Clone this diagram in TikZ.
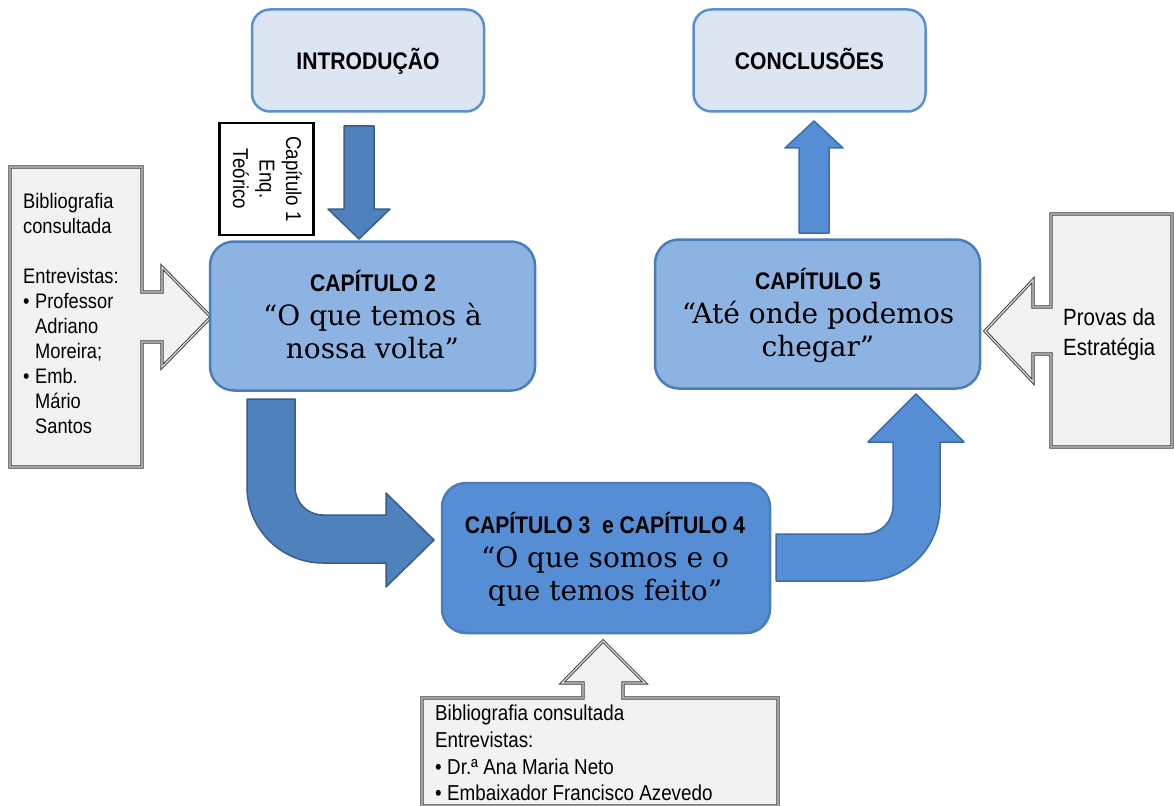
\documentclass[tikz,border=0pt]{standalone}
\usepackage{fontspec}
\setmainfont{Liberation Sans}
\newfontfamily\hfont[FakeStretch=0.88]{Liberation Sans}
\newfontfamily\bodyfont[FakeStretch=0.87]{Liberation Sans}
\newfontfamily\qfont{DejaVu Serif}
\definecolor{lightfill}{HTML}{DCE6F2}
\definecolor{lightline}{HTML}{5B8FD0}
\definecolor{midfill}{HTML}{8DB3E2}
\definecolor{midline}{HTML}{4A7EBB}
\definecolor{darkfill}{HTML}{558ED5}
\definecolor{arrowA}{HTML}{4F81BD}
\definecolor{arrowAline}{HTML}{385D8A}
\definecolor{arrowB}{HTML}{558ED5}
\definecolor{arrowBline}{HTML}{3C6DA8}
\definecolor{callfill}{HTML}{F2F2F2}
\definecolor{callline}{HTML}{3A3A3A}
\begin{document}
\begin{tikzpicture}[x=1pt,y=-1pt,
  lightbox/.style={draw=lightline, fill=lightfill, line width=2.5pt, rounded corners=18pt,
    minimum width=232pt, minimum height=102pt, inner sep=0pt},
  chapbox/.style={draw=midline, line width=2.5pt, rounded corners=24pt,
    minimum width=325pt, minimum height=149pt, inner sep=0pt},
  blockA/.style={fill=arrowA, draw=arrowAline, line width=1.5pt, line join=round},
  blockB/.style={fill=arrowB, draw=arrowBline, line width=1.5pt, line join=round},
  callout/.style={fill=callfill, draw=callline, line width=0.9pt, double=white!85!black,
    double distance=1.3pt},
  headtxt/.style={font=\hfont\bfseries\fontsize{24}{28}\selectfont, inner sep=0pt, anchor=base},
  quotetxt/.style={font=\qfont\fontsize{28}{33}\selectfont, inner sep=0pt, anchor=base},
  bodytxt/.style={inner sep=0pt, anchor=north west, align=left}
]
\useasboundingbox (0,0) rectangle (1174,805);
\fill[white] (0,0) rectangle (1174,805);

% callouts
\draw[callout] (10,167) -- (142,167) -- (142,292) -- (162,292) -- (162,267) -- (211,317)
  -- (162,367) -- (162,342) -- (142,342) -- (142,467) -- (10,467) -- cycle;
\draw[callout] (1172,214) -- (1051,214) -- (1051,307) -- (1033,307) -- (1033,280) -- (985,331)
  -- (1033,382) -- (1033,354) -- (1051,354) -- (1051,447) -- (1172,447) -- cycle;
\draw[callout] (422,806) -- (422,698) -- (583,698) -- (583,683) -- (562,683) -- (603,641)
  -- (645,683) -- (623,683) -- (623,698) -- (778,698) -- (778,806) -- cycle;

\node[bodytxt, font=\bodyfont\fontsize{21}{25}\selectfont] (leftnote) at (23,193)
  {Bibliografia\\consultada\\[25pt]Entrevistas:\\\makebox[12pt][l]{•}Professor\\\hspace*{12pt}Adriano\\\hspace*{12pt}Moreira;\\\makebox[12pt][l]{•}Emb.\\\hspace*{12pt}Mário\\\hspace*{12pt}Santos};
\node[bodytxt, font=\bodyfont\fontsize{23.5}{30}\selectfont] (rightnote) at (1063,308)
  {Provas da\\Estratégia};
\node[bodytxt, font=\bodyfont\fontsize{21.6}{26.7}\selectfont] (bottomnote) at (435,705)
  {Bibliografia consultada\\Entrevistas:\\\makebox[12pt][l]{•}Dr.ª Ana Maria Neto\\\makebox[12pt][l]{•}Embaixador Francisco Azevedo};

% block arrows
\draw[blockA] (344,126) -- (374,126) -- (374,209) -- (390,209) -- (359,239) -- (328,209)
  -- (344,209) -- cycle;
\draw[blockB] (799,233) -- (799,148) -- (785,148) -- (814,121) -- (843,148) -- (829,148)
  -- (829,233) -- cycle;
\draw[blockA] (247,399) -- (247,487) .. controls (247,529) and (281,563) .. (323,563)
  -- (386,563) -- (386,587) -- (434,540) -- (386,493) -- (386,515) -- (323,515)
  .. controls (307.5,515) and (295,502.5) .. (295,487) -- (295,399) -- cycle;
\draw[blockB] (776,534) -- (865,534) .. controls (880.5,534) and (893,521.5) .. (893,506)
  -- (893,442) -- (868,442) -- (916,394) -- (964,442) -- (940,442) -- (940,506)
  .. controls (940,547.4) and (906.4,581) .. (865,581) -- (776,581) -- cycle;

% boxes
\node[lightbox] (intro) at (368,60.5) {};
\node[headtxt] (introtxt) at (368,70) {INTRODUÇÃO};
\node[lightbox] (concl) at (809.5,60.5) {};
\node[headtxt] (concltxt) at (809.5,70) {CONCLUSÕES};

\node[draw=black, fill=white, line width=2.5pt, minimum width=94pt, minimum height=112pt,
  inner sep=0pt] (cap1) at (266.5,179) {};
\node[rotate=-90, align=center, inner sep=0pt, font=\bodyfont\fontsize{21.5}{26.5}\selectfont]
  (cap1txt) at (267.5,179) {Capítulo 1\\Enq.\\Teórico};

\node[chapbox, fill=midfill] (cap2) at (372.5,316) {};
\node[headtxt] (cap2h) at (373,291) {CAPÍTULO 2};
\node[quotetxt] (cap2q1) at (372.5,325) {“O que temos à};
\node[quotetxt] (cap2q2) at (372.5,358) {nossa volta”};

\node[chapbox, fill=midfill] (cap5) at (817.5,314) {};
\node[headtxt] (cap5h) at (818,289) {CAPÍTULO 5};
\node[quotetxt] (cap5q1) at (818,323) {“Até onde podemos};
\node[quotetxt] (cap5q2) at (818,356) {chegar”};

\node[chapbox, fill=darkfill, minimum width=328pt, minimum height=150pt] (cap3) at (606,558) {};
\node[headtxt] (cap3h) at (605,533) {CAPÍTULO 3\ \ e CAPÍTULO 4};
\node[quotetxt] (cap3q1) at (605,567) {“O que somos e o};
\node[quotetxt] (cap3q2) at (605,600) {que temos feito”};
\end{tikzpicture}
\end{document}
